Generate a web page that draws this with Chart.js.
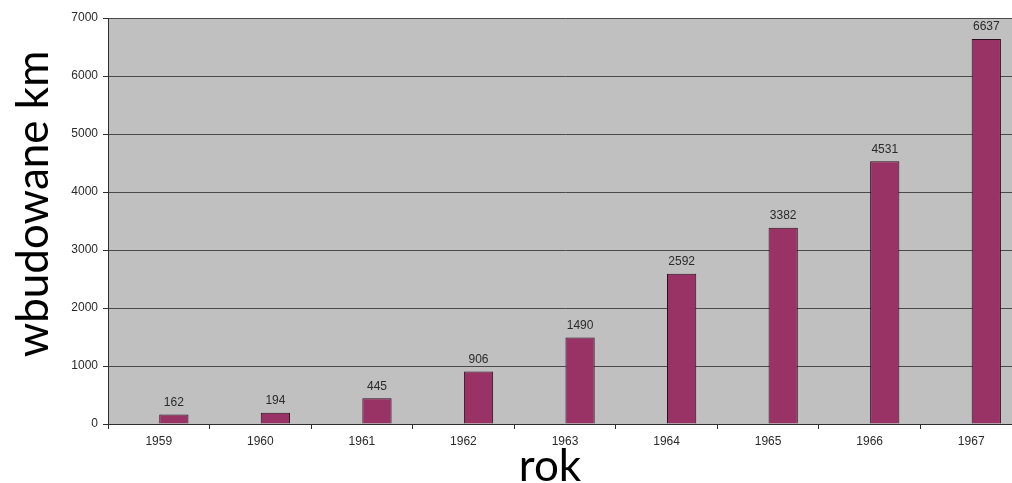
<!DOCTYPE html>
<html>
<head>
<meta charset="utf-8">
<script src="https://cdn.jsdelivr.net/npm/chart.js@4/dist/chart.umd.min.js"></script>
<style>
  html, body { margin: 0; padding: 0; background: #ffffff; overflow: hidden; }
  #wrap { position: absolute; left: 0; top: 0; width: 1032px; height: 483px; }
</style>
</head>
<body>
<div id="wrap"><canvas id="c" width="1032" height="483"></canvas></div>
<script>
// Kilometres built per year
const years = ['1959', '1960', '1961', '1962', '1963', '1964', '1965', '1966', '1967'];
const builtKm = [162, 194, 445, 906, 1490, 2592, 3382, 4531, 6637];
const yTicks = [0, 1000, 2000, 3000, 4000, 5000, 6000, 7000];
const xTitle = 'rok';
const yTitle = 'wbudowane km';

const axisColor = '#2e2e2e';
const labelFont = { family: '"Liberation Sans", Arial, sans-serif', size: 12 };
const titleFontCss = '44px Lato, "Open Sans", sans-serif';

// grey plotting area
const plotBackground = {
  id: 'plotBackground',
  beforeDraw(chart) {
    const a = chart.chartArea, ctx = chart.ctx;
    ctx.save();
    ctx.fillStyle = '#c0c0c0';
    ctx.fillRect(a.left, a.top, a.right - a.left, a.bottom - a.top);
    ctx.restore();
  }
};

// value printed above each bar
const valueLabels = {
  id: 'valueLabels',
  afterDatasetsDraw(chart) {
    const ctx = chart.ctx;
    const meta = chart.getDatasetMeta(1);
    ctx.save();
    ctx.font = '12px "Liberation Sans", Arial, sans-serif';
    ctx.fillStyle = '#2a2a2a';
    ctx.textAlign = 'center';
    ctx.textBaseline = 'bottom';
    meta.data.forEach((bar, i) => {
      ctx.fillText(String(builtKm[i]), bar.x, bar.y - 6);
    });
    ctx.restore();
  }
};

// large axis titles, placed relative to the plotting area
const axisTitles = {
  id: 'axisTitles',
  afterDraw(chart) {
    const a = chart.chartArea, ctx = chart.ctx;
    ctx.save();
    ctx.font = titleFontCss;
    ctx.fillStyle = '#000000';
    ctx.textAlign = 'center';
    ctx.textBaseline = 'alphabetic';
    ctx.fillText(xTitle, (a.left + a.right) / 2 - 15, a.bottom + 57);
    ctx.translate(a.left - 60, (a.top + a.bottom) / 2 - 17);
    ctx.rotate(-Math.PI / 2);
    ctx.fillText(yTitle, 0, 0);
    ctx.restore();
  }
};

new Chart(document.getElementById('c'), {
  type: 'bar',
  data: {
    labels: years,
    datasets: [
      { label: 'spacer', data: [] },
      {
        label: yTitle,
        data: builtKm,
        backgroundColor: '#993366',
        borderColor: '#2a0f1e',
        borderWidth: 1,
        borderSkipped: 'bottom'
      }
    ]
  },
  options: {
    responsive: false,
    animation: false,
    events: [],
    datasets: { bar: { categoryPercentage: 0.594, barPercentage: 0.97 } },
    layout: { padding: { left: 0, right: 10, top: 18, bottom: 0 } },
    plugins: { legend: { display: false }, tooltip: { enabled: false } },
    scales: {
      x: {
        offset: true,
        grid: {
          offset: true,
          drawOnChartArea: false,
          drawTicks: true,
          tickLength: 5,
          color: axisColor
        },
        border: { color: axisColor, width: 1 },
        ticks: { color: '#2a2a2a', font: labelFont, padding: 5, maxRotation: 0 },
        afterFit(scale) { scale.height = 59; }
      },
      y: {
        min: 0,
        max: 7000,
        afterBuildTicks(scale) { scale.ticks = yTicks.map(v => ({ value: v })); },
        grid: {
          color: '#4a4a4a',
          lineWidth: 1,
          drawTicks: true,
          tickLength: 5,
          tickColor: axisColor
        },
        border: { color: axisColor, width: 1 },
        ticks: {
          color: '#2a2a2a',
          font: labelFont,
          padding: 5,
          callback: (v) => String(v)
        },
        afterFit(scale) { scale.width = 108; }
      }
    }
  },
  plugins: [plotBackground, valueLabels, axisTitles]
});
</script>
</body>
</html>
